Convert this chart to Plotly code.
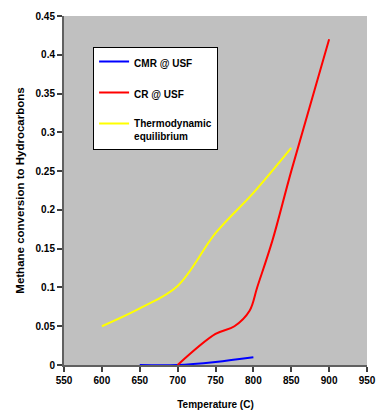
import plotly.graph_objects as go

cmr_x = [650, 700, 750, 800]
cmr_y = [0.0, 0.0, 0.004, 0.01]

cr_x = [700, 750, 775, 795, 805, 825, 850, 900]
cr_y = [0.0, 0.04, 0.05, 0.07, 0.1, 0.16, 0.25, 0.42]

eq_x = [600, 650, 700, 750, 800, 850]
eq_y = [0.05, 0.073, 0.102, 0.17, 0.222, 0.28]

x_ticks = [550, 600, 650, 700, 750, 800, 850, 900, 950]
y_ticks = [0, 0.05, 0.1, 0.15, 0.2, 0.25, 0.3, 0.35, 0.4, 0.45]
y_labels = ["0", "0.05", "0.1", "0.15", "0.2", "0.25", "0.3", "0.35", "0.4", "0.45"]

font_family = "Liberation Sans, Arial, sans-serif"

fig = go.Figure()
fig.add_trace(go.Scatter(x=cmr_x, y=cmr_y, mode="lines", name="CMR @ USF",
                         line=dict(color="#0000FF", width=2, shape="spline"), legendgroup="a"))
fig.add_trace(go.Scatter(x=cr_x, y=cr_y, mode="lines", name="CR @ USF",
                         line=dict(color="#FF0000", width=2, shape="spline"), legendgroup="b"))
fig.add_trace(go.Scatter(x=eq_x, y=eq_y, mode="lines", name="Thermodynamic<br>equilibrium",
                         line=dict(color="#FFFF00", width=2, shape="spline"), legendgroup="c"))

fig.update_layout(
    width=386, height=419,
    margin=dict(l=64, r=10, t=15, b=50),
    paper_bgcolor="white",
    plot_bgcolor="#C0C0C0",
    font=dict(family=font_family, size=10, color="black", weight="bold"),
    legend=dict(
        x=0.096, y=0.91, xanchor="left", yanchor="top",
        bgcolor="white", bordercolor="black", borderwidth=1,
        font=dict(family=font_family, size=10, color="black", weight="bold"),
        tracegroupgap=12, valign="top", traceorder="grouped",
        itemwidth=30,
    ),
    xaxis=dict(
        range=[550, 950], tickvals=x_ticks, ticktext=[str(v) for v in x_ticks],
        showgrid=False, zeroline=False, showline=True, linecolor="#606060", linewidth=2,
        ticks="outside", ticklen=5, tickcolor="#404040", tickwidth=1.5,
        title=dict(text="Temperature (C)", font=dict(size=10, weight="bold"), standoff=16),
    ),
    yaxis=dict(
        range=[0, 0.45], tickvals=y_ticks, ticktext=y_labels,
        showgrid=False, zeroline=False, showline=True, linecolor="#606060", linewidth=2,
        ticks="outside", ticklen=5, tickcolor="#404040", tickwidth=1.5,
        title=dict(text="Methane conversion to Hydrocarbons", font=dict(size=11.5, weight="bold"), standoff=9),
    ),
)

fig.write_html(
    "out.html",
    config={"displayModeBar": False},
    post_script="document.body.style.margin='0';",
)
